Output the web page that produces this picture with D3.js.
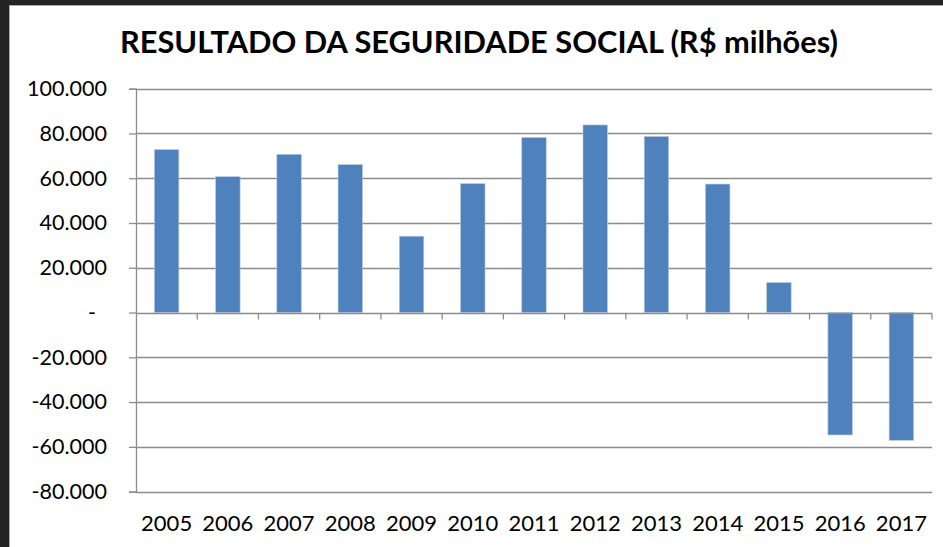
<!DOCTYPE html>
<html>
<head>
<meta charset="utf-8">
<script src="https://cdn.jsdelivr.net/npm/d3@7"></script>
<style>
  html, body { margin: 0; padding: 0; background: #232323; }
  svg { display: block; }
</style>
</head>
<body>
<svg id="chart" width="943" height="547"></svg>
<script>
const years = ["2005","2006","2007","2008","2009","2010","2011","2012","2013","2014","2015","2016","2017"];
const values = [72800, 60700, 70700, 66100, 34100, 57600, 78200, 83800, 78700, 57400, 13400, -54700, -57100];
const yTicks = [100000, 80000, 60000, 40000, 20000, 0, -20000, -40000, -60000, -80000];
const title = "RESULTADO DA SEGURIDADE SOCIAL (R$ milhões)";

const svg = d3.select("#chart");
const font = "Lato, 'Open Sans', sans-serif";

// white panel
svg.append("rect").attr("x", 9.5).attr("y", 5.5).attr("width", 940).attr("height", 550)
  .attr("fill", "#ffffff").attr("stroke", "#a6a6a6").attr("stroke-width", 1);

const pLeft = 136, pRight = 932, pTop = 88.7, pBottom = 491.6;

const x = d3.scaleBand().domain(years).range([pLeft, pRight]).paddingInner(0.6).paddingOuter(0.3);
const y = d3.scaleLinear().domain([-80000, 100000]).range([pBottom, pTop]);

// title
svg.append("text").attr("x", 479).attr("y", 53)
  .attr("text-anchor", "middle")
  .attr("font-family", font).attr("font-weight", "bold").attr("font-size", 30)
  .attr("textLength", 718).attr("lengthAdjust", "spacingAndGlyphs")
  .attr("fill", "#000").text(title);

// gridlines
svg.append("g").selectAll("line").data(yTicks.filter(d => d !== 0)).join("line")
  .attr("x1", pLeft).attr("x2", pRight)
  .attr("y1", d => Math.round(y(d)) + 0.5).attr("y2", d => Math.round(y(d)) + 0.5)
  .attr("stroke", "#8c8c8c").attr("stroke-width", 1.3);

// y axis
const fmt = d => d === 0 ? "-" : (d < 0 ? "-" : "") + d3.format(",")(Math.abs(d)).replace(/,/g, ".");
const yAxis = svg.append("g").attr("transform", `translate(${pLeft},0)`)
  .call(d3.axisLeft(y).tickValues(yTicks).tickFormat(fmt).tickSize(7).tickPadding(22));
yAxis.select(".domain").attr("stroke", "#8c8c8c").attr("stroke-width", 1.3);
yAxis.selectAll(".tick line").attr("stroke", "#8c8c8c").attr("stroke-width", 1.3);
yAxis.selectAll(".tick text")
  .attr("font-family", font).attr("font-size", 21.5).attr("fill", "#000")
  .attr("x", d => d === 0 ? -40 : -29);

// bars
svg.append("g").selectAll("rect").data(values).join("rect")
  .attr("x", (d, i) => x(years[i]))
  .attr("width", x.bandwidth())
  .attr("y", d => y(Math.max(0, d)))
  .attr("height", d => Math.abs(y(d) - y(0)))
  .attr("fill", "#4f81bd")
  .attr("stroke", "#b9cde5").attr("stroke-width", 0.6);

// zero axis with category boundary ticks
const y0 = Math.round(y(0)) + 0.5;
const boundaries = years.map(d => x(d) - x.paddingOuter() * x.step()).concat([pRight]);
const zg = svg.append("g");
zg.append("line").attr("x1", pLeft).attr("x2", pRight).attr("y1", y0).attr("y2", y0)
  .attr("stroke", "#8c8c8c").attr("stroke-width", 1.3);
zg.selectAll("line.t").data(boundaries.slice(1)).join("line").attr("class", "t")
  .attr("x1", d => d).attr("x2", d => d).attr("y1", y0).attr("y2", y0 + 6)
  .attr("stroke", "#8c8c8c").attr("stroke-width", 1.3);

// category labels
const xAxis = svg.append("g").attr("transform", `translate(0,${pBottom})`)
  .call(d3.axisBottom(x).tickSize(0).tickPadding(24));
xAxis.select(".domain").remove();
xAxis.selectAll(".tick text")
  .attr("font-family", font).attr("font-size", 22).attr("fill", "#000");
</script>
</body>
</html>
